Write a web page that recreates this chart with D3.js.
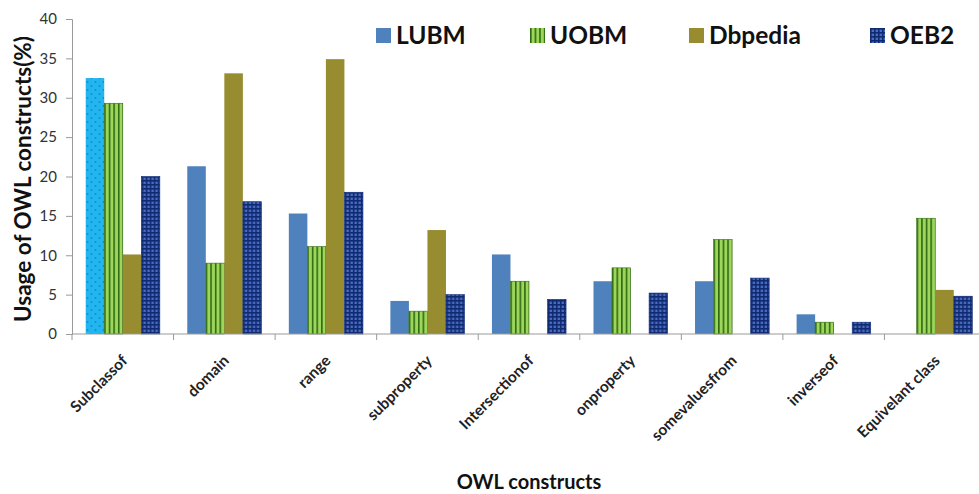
<!DOCTYPE html>
<html>
<head>
<meta charset="utf-8">
<script src="https://cdn.jsdelivr.net/npm/d3@7/dist/d3.min.js"></script>
<style>
  html, body { margin: 0; padding: 0; background: #fff; }
  svg { display: block; font-family: Lato, "Open Sans", sans-serif; }
</style>
</head>
<body>
<svg id="chart" width="979" height="494"></svg>
<script>
// OWL construct usage per benchmark ontology
const categories = ["Subclassof", "domain", "range", "subproperty", "Intersectionof",
                    "onproperty", "somevaluesfrom", "inverseof", "Equivelant class"];
const seriesNames = ["LUBM", "UOBM", "Dbpedia", "OEB2"];
const lubm    = [32.5, 21.3, 15.3, 4.2, 10.1, 6.7, 6.7, 2.5, 0];
const uobm    = [29.3, 9.0, 11.1, 2.9, 6.7, 8.4, 12.0, 1.5, 14.7];
const dbpedia = [10.1, 33.1, 34.9, 13.2, 0, 0, 0, 0, 5.6];
const oeb2    = [20.0, 16.8, 18.0, 5.0, 4.4, 5.2, 7.1, 1.5, 4.8];
const yTicks  = [0, 5, 10, 15, 20, 25, 30, 35, 40];

const values = [lubm, uobm, dbpedia, oeb2];
const rows = categories.map((c, i) => ({
  category: c,
  bars: seriesNames.map((s, j) => ({ series: s, value: values[j][i], idx: i }))
}));

const svg = d3.select("#chart");
const plotL = 72, plotR = 986, plotT = 19, plotB = 334;

const x = d3.scaleBand().domain(categories).range([plotL, plotR])
  .paddingInner(0.27).paddingOuter(0.135);
const xs = d3.scaleBand().domain(seriesNames).range([0, x.bandwidth()]);
const y = d3.scaleLinear().domain([0, 40]).range([plotB, plotT]);

// Fill patterns
const defs = svg.append("defs");
const stripes = defs.append("pattern").attr("id", "pUOBM")
  .attr("patternUnits", "userSpaceOnUse").attr("width", 4.6).attr("height", 10);
stripes.append("rect").attr("width", 4.6).attr("height", 10).attr("fill", "#9ed65c");
stripes.append("rect").attr("x", 0).attr("width", 1.6).attr("height", 10).attr("fill", "#2f6a12");

const grid = defs.append("pattern").attr("id", "pOEB2")
  .attr("patternUnits", "userSpaceOnUse").attr("width", 4).attr("height", 4);
grid.append("rect").attr("width", 4).attr("height", 4).attr("fill", "#4a6cc0");
grid.append("rect").attr("x", 0).attr("width", 1.6).attr("height", 4).attr("fill", "#102a72");
grid.append("rect").attr("y", 0).attr("width", 4).attr("height", 1.6).attr("fill", "#102a72");

const dots = defs.append("pattern").attr("id", "pSel")
  .attr("patternUnits", "userSpaceOnUse").attr("width", 8).attr("height", 8);
dots.append("rect").attr("width", 8).attr("height", 8).attr("fill", "#22b6f0");
dots.append("path").attr("d", "M1,1 l2,1 l-2,1 Z M5,5 l2,1 l-2,1 Z").attr("fill", "#1a6fb8");

const fills = { LUBM: "#4f81bd", UOBM: "url(#pUOBM)", Dbpedia: "#978c2f", OEB2: "url(#pOEB2)" };
const strokes = { LUBM: "none", UOBM: "#2f6a12", Dbpedia: "none", OEB2: "#102a72" };

// Bars
const groups = svg.append("g").selectAll("g").data(rows).join("g")
  .attr("transform", d => `translate(${x(d.category)},0)`);
groups.selectAll("rect").data(d => d.bars.filter(b => b.value > 0)).join("rect")
  .attr("x", d => xs(d.series))
  .attr("y", d => y(d.value))
  .attr("width", xs.bandwidth())
  .attr("height", d => y(0) - y(d.value))
  .attr("fill", d => (d.series === "LUBM" && d.idx === 0) ? "url(#pSel)" : fills[d.series])
  .attr("stroke", d => strokes[d.series])
  .attr("stroke-width", 0.6);

// Y axis
const yAxis = svg.append("g").attr("transform", `translate(${plotL},0)`)
  .call(d3.axisLeft(y).tickValues(yTicks).tickSize(6).tickPadding(9));
yAxis.select(".domain").attr("stroke", "#9a9a9a");
yAxis.selectAll(".tick line").attr("stroke", "#9a9a9a");
yAxis.selectAll("text").attr("font-size", 15).attr("fill", "#333")
  .attr("font-family", "Lato, 'Open Sans', sans-serif");

// X axis with boundary ticks between categories
const xAxisG = svg.append("g");
xAxisG.append("line").attr("x1", plotL).attr("x2", plotR).attr("y1", plotB).attr("y2", plotB)
  .attr("stroke", "#9a9a9a");
const boundaries = categories.map(c => x(c) - x.step() * x.paddingInner() / 2);
boundaries.push(plotR);
xAxisG.selectAll("line.bt").data(boundaries).join("line")
  .attr("class", "bt")
  .attr("x1", d => d).attr("x2", d => d).attr("y1", plotB).attr("y2", plotB + 6)
  .attr("stroke", "#9a9a9a");
const xLabels = xAxisG.selectAll("g.xl").data(categories).join("g")
  .attr("class", "xl")
  .attr("transform", d => `translate(${x(d) + x.bandwidth() / 2 - 2},${plotB + 20})`);
xLabels.append("text")
  .attr("transform", "rotate(-45)")
  .attr("text-anchor", "end")
  .attr("dy", "0.7em")
  .attr("font-size", 15.5).attr("font-weight", "bold").attr("fill", "#222")
  .text(d => d);

// Axis titles
svg.append("text")
  .attr("transform", `translate(31,179) rotate(-90)`)
  .attr("text-anchor", "middle").attr("font-size", 22.5).attr("font-weight", "bold").attr("fill", "#111")
  .text("Usage of OWL constructs(%)");
svg.append("text")
  .attr("x", 529).attr("y", 489)
  .attr("text-anchor", "middle").attr("font-size", 20).attr("font-weight", "bold").attr("fill", "#111")
  .text("OWL constructs");

// Legend
const legendX = [376, 530, 689, 870];
const legend = svg.append("g").selectAll("g").data(seriesNames).join("g")
  .attr("transform", (d, i) => `translate(${legendX[i]},28)`);
legend.append("rect").attr("width", 15).attr("height", 15)
  .attr("fill", d => fills[d]);
legend.append("text").attr("x", 20).attr("y", 16)
  .attr("font-size", 24.5).attr("font-weight", "bold").attr("fill", "#111")
  .text(d => d);
</script>
</body>
</html>
